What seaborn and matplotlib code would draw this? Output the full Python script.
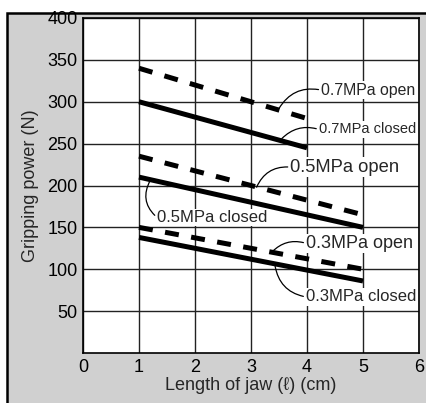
import pandas as pd
import matplotlib
matplotlib.use("Agg")
import matplotlib.pyplot as plt
from matplotlib.patches import Rectangle
import seaborn as sns

# Values (end points of each straight line)
jaw_07 = [1, 4]
jaw_05 = [1, 5]
jaw_03 = [1, 5]
open_07 = [340, 280]
closed_07 = [300, 245]
open_05 = [235, 165]
closed_05 = [210, 150]
open_03 = [150, 100]
closed_03 = [138, 86]

series = [
    ("0.7MPa", "open", jaw_07, open_07),
    ("0.7MPa", "closed", jaw_07, closed_07),
    ("0.5MPa", "open", jaw_05, open_05),
    ("0.5MPa", "closed", jaw_05, closed_05),
    ("0.3MPa", "open", jaw_03, open_03),
    ("0.3MPa", "closed", jaw_03, closed_03),
]
rows = []
for pressure, state, xs, ys in series:
    for x, y in zip(xs, ys):
        rows.append({"pressure": pressure, "state": state, "jaw": x, "power": y})
df = pd.DataFrame(rows)

sns.set_style("white")
plt.rcParams["font.family"] = ["Liberation Sans", "DejaVu Sans"]

fig = plt.figure(figsize=(4.26, 4.03), dpi=100, facecolor="white")

# Grey panel behind the chart
panel = Rectangle((6.5 / 426, -0.05), 1.1, (403 - 13) / 403 + 0.05,
                  transform=fig.transFigure, facecolor="#d0d0d0",
                  edgecolor="black", linewidth=1.8, zorder=-5)
fig.patches.append(panel)

ax = fig.add_axes([83 / 426, 50 / 403, 336 / 426, 335 / 403])
ax.set_zorder(2)
ax.set_facecolor("white")

sns.lineplot(data=df, x="jaw", y="power", hue="pressure", style="state",
             units="pressure", estimator=None,
             palette={"0.7MPa": "black", "0.5MPa": "black", "0.3MPa": "black"},
             dashes={"open": (2.8, 2.5), "closed": ""},
             linewidth=3.6, legend=False, ax=ax, zorder=3)
for ln in ax.lines:
    ln.set_solid_capstyle("butt")
    ln.set_dash_capstyle("butt")

ax.set_xlim(0, 6)
ax.set_ylim(0, 400)
ax.set_xticks(range(0, 7))
ax.set_yticks(range(50, 401, 50))
ax.grid(True, color="#222222", linewidth=1.0)
ax.tick_params(length=0, labelsize=13, pad=4, colors="black")
for s in ax.spines.values():
    s.set_color("black")
    s.set_linewidth(1.2)

ax.set_xlabel("Length of jaw (\u2113) (cm)", fontsize=13, labelpad=1)
ax.set_ylabel("Gripping power (N)", fontsize=13, labelpad=6)

box = dict(facecolor="white", edgecolor="none", pad=0.8)
labels = [
    ("0.7MPa open", (3.5, 292), (4.25, 314), 11.4, "arc3,rad=0.35"),
    ("0.7MPa closed", (3.55, 256), (4.21, 267), 10.5, "arc3,rad=0.3"),
    ("0.5MPa open", (3.1, 198), (3.7, 222), 13.2, "arc3,rad=0.35"),
    ("0.5MPa closed", (1.2, 206), (1.32, 162), 12, "arc3,rad=-0.4"),
    ("0.3MPa open", (3.38, 121), (3.98, 131), 13, "arc3,rad=0.3"),
    ("0.3MPa closed", (3.43, 104), (3.98, 67), 12, "arc3,rad=-0.35"),
]
for text, xy, xytext, size, conn in labels:
    ax.annotate(text, xy=xy, xytext=xytext, fontsize=size, ha="left",
                va="center", bbox=box, zorder=5,
                arrowprops=dict(arrowstyle="-", color="black", lw=0.9,
                                connectionstyle=conn, relpos=(0, 0.5),
                                shrinkA=1, shrinkB=0))

fig.savefig("out.png", dpi=100, facecolor="white")
